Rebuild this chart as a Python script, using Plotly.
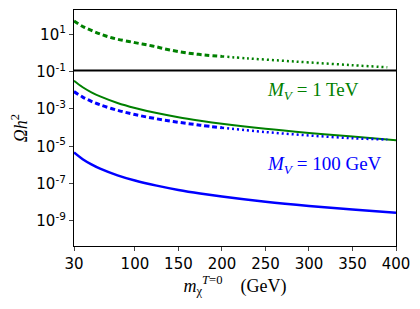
import plotly.graph_objects as go

# dark matter mass (GeV)
x_main = [30, 40, 50, 60, 80, 100, 125, 150, 175, 200, 250, 300, 350, 400]

# M_V = 1 TeV, upper branch: dashed part and dotted continuation
x_g_dash = [30, 40, 50, 60, 70, 80, 100, 120, 140, 160, 180, 200]
y_g_dash = [51.4, 26.1, 16.0, 10.4, 7.17, 5.41, 3.56, 2.37, 1.45, 1.0, 0.78, 0.65]
x_g_dot = [200, 230, 267, 300, 350, 390]
y_g_dot = [0.65, 0.51, 0.39, 0.31, 0.22, 0.17]

# M_V = 1 TeV, lower solid branch
y_g_solid = [0.0326, 0.0146, 0.00782, 0.00470, 0.00210, 0.00113, 6.0e-4, 3.6e-4,
             2.36e-4, 1.62e-4, 8.7e-5, 5.2e-5, 3.3e-5, 2.1e-5]

# M_V = 100 GeV, dashed then dotted branch
x_b_dash = [30, 40, 50, 60, 80, 100, 125, 150, 175, 200]
y_b_dash = [8.5e-3, 4.33e-3, 2.56e-3, 1.67e-3, 8.5e-4, 5.0e-4, 2.97e-4, 1.94e-4, 1.35e-4, 9.8e-5]
x_b_dot = [200, 250, 300, 350, 390]
y_b_dot = [9.8e-5, 5.8e-5, 3.8e-5, 2.7e-5, 2.3e-5]

# M_V = 100 GeV, solid branch
y_b_solid = [4.66e-6, 2.04e-6, 1.08e-6, 6.38e-7, 2.79e-7, 1.47e-7, 7.8e-8, 4.6e-8,
             2.96e-8, 2.02e-8, 1.06e-8, 6.3e-9, 4.06e-9, 2.76e-9]

# observed relic abundance
x_obs = [30, 400]
y_obs = [0.115, 0.115]

x_ticks = [30, 100, 150, 200, 250, 300, 350, 400]
y_tickvals = [1e1, 1e-1, 1e-3, 1e-5, 1e-7, 1e-9]
y_ticktext = ["10<sup>1</sup>", "10<sup>-1</sup>", "10<sup>-3</sup>",
              "10<sup>-5</sup>", "10<sup>-7</sup>", "10<sup>-9</sup>"]

GREEN = "#008000"
BLUE = "#0000ff"

fig = go.Figure()
fig.add_trace(go.Scatter(x=x_obs, y=y_obs, mode="lines",
                         line=dict(color="black", width=2.2)))
fig.add_trace(go.Scatter(x=x_g_dash, y=y_g_dash, mode="lines",
                         line=dict(color=GREEN, width=3, dash="5px,3px", shape="spline")))
fig.add_trace(go.Scatter(x=x_g_dot, y=y_g_dot, mode="lines",
                         line=dict(color=GREEN, width=2.5, dash="2px,3px", shape="spline")))
fig.add_trace(go.Scatter(x=x_main, y=y_g_solid, mode="lines",
                         line=dict(color=GREEN, width=2, shape="spline")))
fig.add_trace(go.Scatter(x=x_b_dash, y=y_b_dash, mode="lines",
                         line=dict(color=BLUE, width=3, dash="5px,3px", shape="spline")))
fig.add_trace(go.Scatter(x=x_b_dot, y=y_b_dot, mode="lines",
                         line=dict(color=BLUE, width=2.5, dash="2px,3px", shape="spline")))
fig.add_trace(go.Scatter(x=x_main, y=y_b_solid, mode="lines",
                         line=dict(color=BLUE, width=2.5, shape="spline")))

serif = "Liberation Serif, DejaVu Serif, serif"
fig.add_annotation(x=250, y=-2.03, xref="x", yref="y", xanchor="left", yanchor="middle",
                   text="<i>M</i><sub><i>V</i></sub> = 1 TeV", showarrow=False,
                   font=dict(family=serif, size=19, color=GREEN))
fig.add_annotation(x=250, y=-5.99, xref="x", yref="y", xanchor="left", yanchor="middle",
                   text="<i>M</i><sub><i>V</i></sub> = 100 GeV", showarrow=False,
                   font=dict(family=serif, size=19, color=BLUE))

# page body adds an 8px offset, so the figure is sized to fit the window
fig.update_layout(
    width=412, height=301,
    margin=dict(l=66, r=24, t=2, b=63),
    paper_bgcolor="white", plot_bgcolor="white",
    showlegend=False,
    font=dict(family="DejaVu Sans, sans-serif", size=15, color="black"),
)
fig.update_xaxes(
    range=[30, 400], tickvals=x_ticks, ticks="outside", ticklen=4, tickwidth=1.2,
    showline=True, linecolor="black", linewidth=1.2, mirror=True, showgrid=False,
    zeroline=False, tickfont=dict(size=15), automargin=False,
    title=dict(text="<i>m</i><sub>χ</sub><sup><i>T</i>=0</sup>    (GeV)",
               font=dict(family=serif, size=18), standoff=0),
)
fig.update_yaxes(
    type="log", range=[-10.34, 2.30], tickvals=y_tickvals, ticktext=y_ticktext,
    ticks="outside", ticklen=4, tickwidth=1.2,
    showline=True, linecolor="black", linewidth=1.2, mirror=True, showgrid=False,
    zeroline=False, tickfont=dict(size=15), automargin=False,
    title=dict(text="<i>Ωh</i><sup>2</sup>", font=dict(family=serif, size=18), standoff=6),
)

fig.write_html("out.html")
